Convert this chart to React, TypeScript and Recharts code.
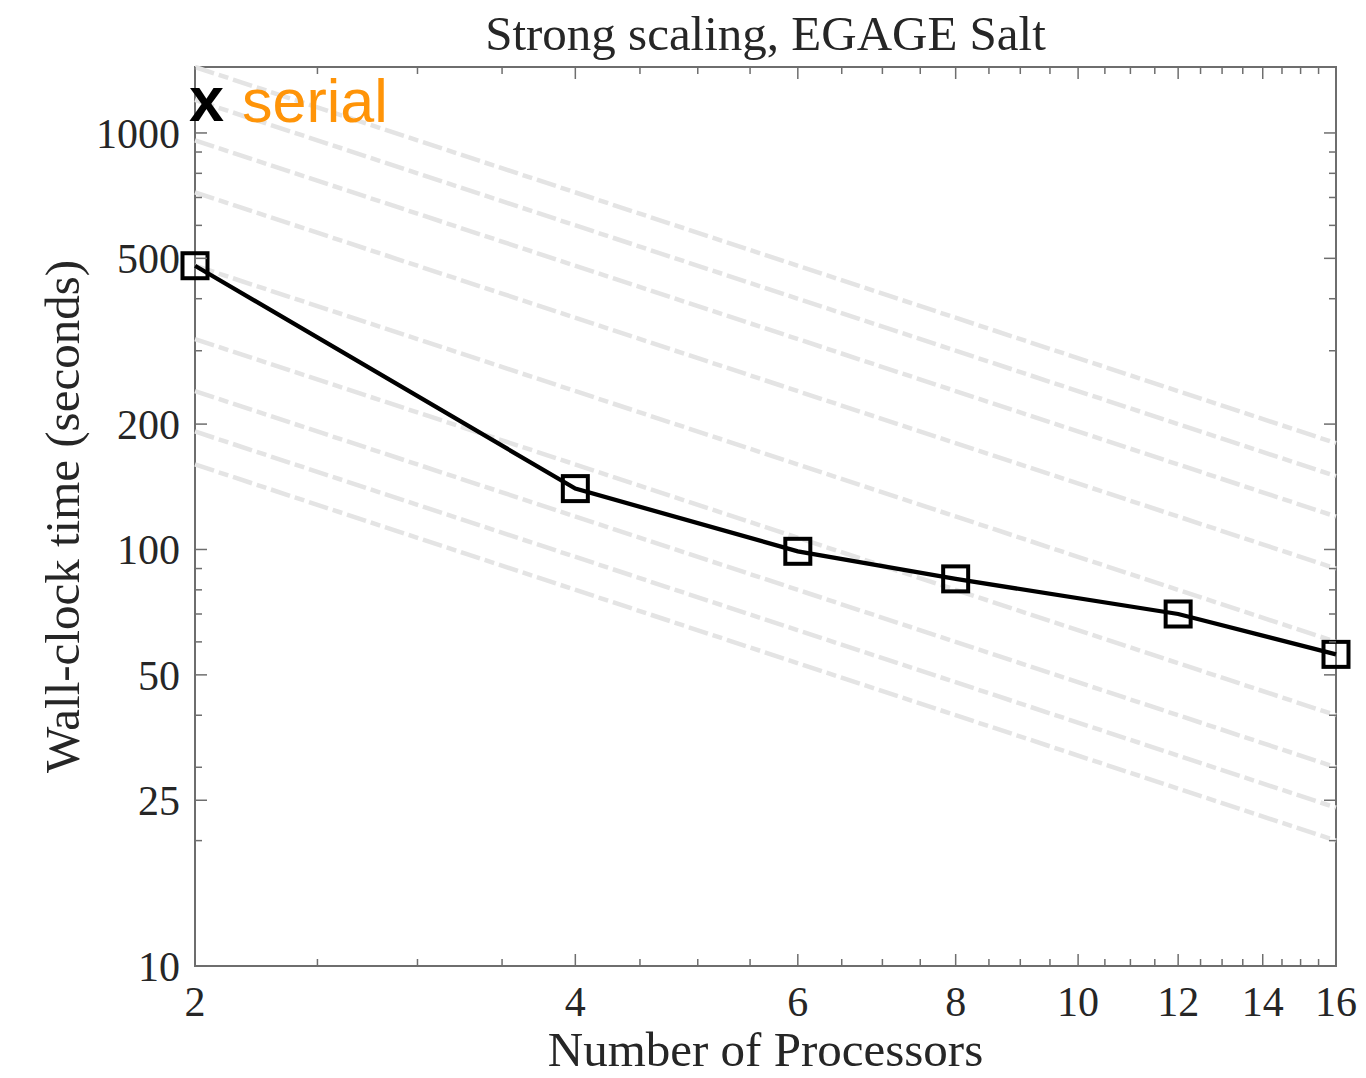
import React from 'react';
import { ComposedChart, Line, XAxis, YAxis, ReferenceArea } from 'recharts';

// ---- data ----
const processors = [2, 4, 6, 8, 12, 16];
const wallClock = [480, 140, 99, 85, 70, 56];

// ideal-scaling guide lines (value at 2 and at 16 processors)
const idealProcs = [2, 16];
const idealStart = [1440, 1200, 960, 720, 480, 320, 240, 192, 160];
const idealEnd = [180, 150, 120, 90, 60, 40, 30, 24, 20];

const xMajorTicks = [2, 4, 6, 8, 10, 12, 14, 16];
const xMinorTicks = [2.5, 3, 3.5, 4.5, 5, 5.5, 6.5, 7, 7.5, 8.5, 9, 9.5, 10.5, 11, 11.5, 12.5, 13, 13.5, 14.5, 15, 15.5];
const yMajorTicks = [10, 25, 50, 100, 200, 500, 1000];
const yMinorTicks = [20, 30, 40, 60, 70, 80, 90, 300, 400, 600, 700, 800, 900];
const xDomain = [2, 16];
const yDomain = [10, 1440];

const titleText = 'Strong scaling, EGAGE Salt';
const xLabel = 'Number of Processors';
const yLabel = 'Wall-clock time (seconds)';
const markerText = 'x';
const serialText = 'serial';

// ---- layout ----
const W = 1366;
const H = 1078;
const MARGIN = { top: 67, right: 30, bottom: 0, left: 0 };
const Y_W = 195;
const X_H = 112;
const PLOT_W = W - MARGIN.left - MARGIN.right - Y_W;
const PLOT_H = H - MARGIN.top - MARGIN.bottom - X_H;
const AXIS = '#6e6e6e';
const TEXT = '#262626';
const SERIF = '"Liberation Serif", "Times New Roman", serif';
const SANS = '"Liberation Sans", Arial, sans-serif';

const mainData = processors.map((p, i) => ({ p, t: wallClock[i] }));
const idealData = idealStart.map((s, i) => [
  { p: idealProcs[0], t: s },
  { p: idealProcs[1], t: idealEnd[i] },
]);

const xTicks = [...xMajorTicks, ...xMinorTicks].sort((a, b) => a - b);
const yTicks = [...yMajorTicks, ...yMinorTicks].sort((a, b) => a - b);

const XTick = (props: any) => {
  const { x, y, payload } = props;
  const v = payload.value;
  const major = xMajorTicks.includes(v);
  const len = major ? 12 : 7;
  return (
    <g>
      <line x1={x} y1={y} x2={x} y2={y - len} stroke={AXIS} strokeWidth={1.5} />
      <line x1={x} y1={y - PLOT_H} x2={x} y2={y - PLOT_H + len} stroke={AXIS} strokeWidth={1.5} />
      {major && (
        <text x={x} y={y + 50} textAnchor="middle" fontFamily={SERIF} fontSize={42} fill={TEXT}>
          {v}
        </text>
      )}
    </g>
  );
};

const YTick = (props: any) => {
  const { x, y, payload } = props;
  const v = payload.value;
  const major = yMajorTicks.includes(v);
  const len = major ? 12 : 7;
  return (
    <g>
      <line x1={x} y1={y} x2={x + len} y2={y} stroke={AXIS} strokeWidth={1.5} />
      <line x1={x + PLOT_W} y1={y} x2={x + PLOT_W - len} y2={y} stroke={AXIS} strokeWidth={1.5} />
      {major && (
        <text x={x - 15} y={y} dy="0.35em" textAnchor="end" fontFamily={SERIF} fontSize={42} fill={TEXT}>
          {v}
        </text>
      )}
    </g>
  );
};

const SquareDot = (props: any) => {
  const { cx, cy, index } = props;
  if (cx == null || cy == null) return <g key={index} />;
  return (
    <rect key={index} x={cx - 12.5} y={cy - 12.5} width={25} height={25} fill="none" stroke="#000" strokeWidth={4} />
  );
};

const XLabel = (props: any) => {
  const vb = props.viewBox;
  return (
    <text x={vb.x + vb.width / 2} y={vb.y + 100} textAnchor="middle" fontFamily={SERIF} fontSize={49} fill={TEXT}>
      {xLabel}
    </text>
  );
};

const YLabel = (props: any) => {
  const vb = props.viewBox;
  const cx = vb.x + 79;
  const cy = vb.y + vb.height / 2;
  return (
    <text x={cx} y={cy} transform={`rotate(-90 ${cx} ${cy})`} textAnchor="middle" fontFamily={SERIF} fontSize={49} fill={TEXT}>
      {yLabel}
    </text>
  );
};

const TitleLabel = (props: any) => {
  const vb = props.viewBox;
  return (
    <text x={vb.x + vb.width / 2} y={vb.y - 17} textAnchor="middle" fontFamily={SERIF} fontSize={49} fill={TEXT}>
      {titleText}
    </text>
  );
};

export default function App() {
  return (
    <div style={{ position: 'relative', marginLeft: -8, marginTop: -8, width: W, height: H }}>
      <ComposedChart width={W} height={H} data={mainData} margin={MARGIN}>
        <XAxis
          dataKey="p"
          type="number"
          scale="log"
          domain={xDomain}
          ticks={xTicks}
          interval={0}
          tick={<XTick />}
          tickLine={false}
          tickSize={0}
          tickMargin={0}
          axisLine={false}
          height={X_H}
          label={<XLabel />}
        />
        <YAxis
          dataKey="t"
          type="number"
          scale="log"
          domain={yDomain}
          ticks={yTicks}
          interval={0}
          tick={<YTick />}
          tickLine={false}
          tickSize={0}
          tickMargin={0}
          axisLine={false}
          width={Y_W}
          label={<YLabel />}
        />
        <ReferenceArea
          x1={xDomain[0]}
          x2={xDomain[1]}
          y1={yDomain[0]}
          y2={yDomain[1]}
          fill="none"
          stroke={AXIS}
          strokeWidth={2}
          ifOverflow="visible"
          label={<TitleLabel />}
        />
        {idealData.map((d, i) => (
          <Line
            key={`ideal-${i}`}
            data={d}
            dataKey="t"
            type="linear"
            stroke="#e4e4e4"
            strokeWidth={4.5}
            strokeDasharray="20 5 10 5"
            dot={false}
            activeDot={false}
            legendType="none"
            isAnimationActive={false}
          />
        ))}
        <Line
          dataKey="t"
          type="linear"
          stroke="#000"
          strokeWidth={4.3}
          dot={SquareDot}
          activeDot={false}
          isAnimationActive={false}
        />
      </ComposedChart>
      <svg width={W} height={H} style={{ position: 'absolute', left: 0, top: 0, pointerEvents: 'none' }}>
        <text x={189} y={121} fontFamily={SANS} fontWeight="bold" fontSize={63} fill="#000">
          {markerText}
        </text>
        <text x={242} y={122} fontFamily={SANS} fontSize={61} fill="#ff9408">
          {serialText}
        </text>
      </svg>
    </div>
  );
}
